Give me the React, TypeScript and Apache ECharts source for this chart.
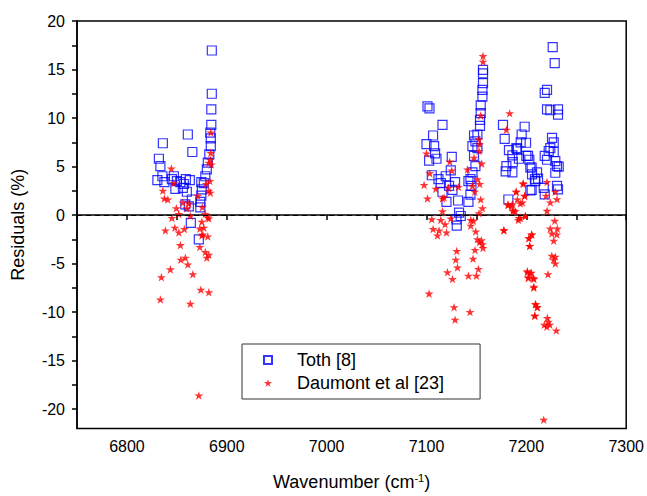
import React, { useEffect, useRef } from "react";
import * as echarts from "echarts";

// Toth [8] residuals: [wavenumber (cm-1), residual (%)]
const tothPoints: [number, number][] = [
  [6885, 16.96], [6885, 12.5], [6884.5, 10.9], [6884.5, 9.3], [6883.5, 8.5], [6884, 7.9], [6884, 7.1],
  [6882.5, 6.25], [6881, 5.4], [6880, 4.7], [6878.5, 4.0], [6877, 3.3], [6874.5, 3.4], [6875, 2.65],
  [6874.5, 2.0], [6873.5, 1.35], [6873.5, 0.8], [6864, -0.8], [6872, -2.5], [6861, 8.3], [6836, 7.4],
  [6865.5, 6.5], [6832, 5.8], [6833.5, 5.05], [6830.5, 3.6], [6837.5, 3.4], [6835.5, 4.0], [6847, 4.0],
  [6845, 3.7], [6850, 3.5], [6853.5, 3.4], [6857, 3.2], [6859, 3.7], [6863, 3.6], [6848.5, 2.7],
  [6856, 2.8], [6860, 2.4], [6865, 1.6], [6862, 0.9], [6858.5, 1.1],
  [7156.6, 14.97], [7156.6, 14.6], [7156.6, 13.6], [7156, 12.9], [7156, 12.2], [7154.3, 11.3],
  [7154.3, 10.5], [7153.6, 9.8], [7153.6, 9.2], [7151, 8.3], [7147.6, 8.2], [7149, 7.6], [7146, 7.1],
  [7151, 6.9], [7147.6, 6.1], [7149, 5.05], [7146, 4.4], [7144, 3.7], [7142, 3.5], [7145, 3.0],
  [7144, 2.1], [7142, 1.35], [7101, 11.2], [7103, 11.0], [7116, 9.3], [7106.6, 8.2], [7100, 7.3],
  [7107.6, 7.1], [7108.6, 6.35], [7110, 5.8], [7102.6, 5.6], [7125.3, 6.0], [7124.3, 4.6], [7105.3, 4.1],
  [7119.3, 4.0], [7112, 3.7], [7114.3, 3.3], [7128.6, 3.4], [7122.6, 3.0], [7116, 2.4], [7126, 2.6],
  [7120, 1.35], [7131.6, 1.5], [7132.6, 0.26], [7134.3, -0.1], [7130, -0.45], [7130.3, -1.1],
  [7176.6, 9.3], [7178.3, 7.85], [7198.3, 9.1], [7195.3, 8.3], [7194.3, 7.5], [7190, 6.9], [7182.6, 6.7],
  [7186, 6.15], [7200, 6.1], [7192.6, 5.8], [7203, 5.7], [7180, 5.05], [7179.3, 4.5], [7186, 4.4],
  [7205.3, 4.9], [7208.6, 3.7], [7205.3, 2.6], [7182, 1.6],
  [7226.4, 17.3], [7228.4, 15.66], [7220.7, 12.9], [7218.4, 12.6], [7220.7, 10.9], [7224, 10.8],
  [7231.7, 10.9], [7231.7, 10.35], [7199.7, 7.45], [7225.7, 7.96], [7227.4, 7.5], [7224, 6.9],
  [7190.7, 6.8], [7222.4, 6.6], [7227.4, 6.5], [7201.7, 6.1], [7218.4, 6.1], [7220.7, 5.7], [7229, 5.56],
  [7230.7, 5.05], [7232.4, 5.0], [7186.4, 5.46], [7204, 4.9], [7205.7, 4.2], [7210.7, 4.4], [7229, 4.36],
  [7211.7, 3.75], [7209, 3.5], [7217.4, 2.8], [7230.7, 3.0], [7231.7, 2.65], [7204, 2.55], [7218.4, 2.14],
];

// Daumont et al [23] residuals: [wavenumber (cm-1), residual (%)]
const daumontPoints: [number, number][] = [
  [6884, 8.5], [6884, 6.4], [6883.5, 5.7], [6882, 5.4], [6884.5, 5.2], [6844.5, 4.8], [6847, 3.3],
  [6883, 3.5], [6879.5, 3.2], [6882, 2.5], [6883.5, 2.3], [6836, 2.5], [6837.5, 1.7], [6841, 1.6],
  [6871, 2.0], [6856, 1.3], [6862, 1.2], [6849.5, 0.7], [6860, 0.7], [6875.5, 0.8], [6852, 0.1],
  [6863.5, -0.1], [6878.5, 0.1], [6881, -0.25], [6845, -0.3], [6875, -0.7], [6877, -1.3], [6838.5, -1.6],
  [6848, -1.3], [6852, -1.8], [6857.5, -1.45], [6873, -1.4], [6876, -2.0], [6881, -2.2], [6853.5, -3.1],
  [6873, -3.3], [6882, -0.36], [6875, -2.1], [6878.5, -3.8], [6882, -4.1], [6880, -4.4], [6858.5, -4.4],
  [6854, -4.6], [6861, -5.1], [6843.5, -5.6], [6866, -6.1], [6834.5, -6.4], [6874, -7.7], [6882, -7.95],
  [6833.5, -8.7], [6863.5, -9.15], [6872, -18.6],
  [7156.6, 16.4], [7156.6, 15.8], [7183.3, 10.5], [7154.3, 10.25], [7180, 8.8], [7152.6, 7.8],
  [7153.3, 7.3], [7152.6, 6.6], [7100, 6.35], [7147.6, 5.9], [7123.3, 5.5], [7155.3, 5.3], [7141, 4.7],
  [7125.3, 4.6], [7103.3, 4.3], [7151, 3.7], [7153.3, 3.2], [7097.6, 3.1], [7132, 2.9], [7122, 2.8],
  [7109.3, 2.7], [7146, 3.0], [7197, 3.2], [7190, 2.4], [7148.3, 2.4], [7101, 1.7], [7116, 1.7],
  [7117.6, 1.8], [7198.3, 2.0], [7154.3, 1.6], [7191, 1.6], [7181.6, 1.1], [7186, 1.1], [7196, 1.3],
  [7156, 0.7], [7116, 0.4], [7186.6, 0.4], [7152.6, 0.19], [7199, -0.1], [7192.6, -0.3], [7105.3, -0.43],
  [7114.3, -0.5], [7124.3, -0.36], [7144.3, -0.5], [7147, -0.6], [7118.6, -0.94], [7106.6, -1.45],
  [7112.6, -1.6], [7111, -2.1], [7120, -1.8], [7144.3, -1.1], [7149.3, -1.7], [7177.6, -1.55],
  [7205.3, -2.0], [7202.6, -2.4], [7151, -2.5], [7155, -2.6], [7156, -3.0], [7153, -2.8],
  [7156.6, -3.4], [7148.6, -3.6], [7130.3, -3.7], [7129.3, -4.6], [7146.6, -4.5], [7203.3, -3.2],
  [7131, -5.4], [7152, -5.56], [7121, -5.9], [7201, -5.9], [7204, -6.0], [7126, -6.6], [7142, -6.25],
  [7150, -6.25], [7202, -6.4], [7207.6, -6.6], [7207.6, -7.4], [7102.6, -8.1], [7209, -9.2], [7211, -9.5],
  [7208.6, -10.35], [7127.6, -9.5], [7143.6, -10.0], [7128.6, -10.8],
  [7196.7, 3.27], [7220.7, 3.4], [7189.7, 2.4], [7229, 2.4], [7198.4, 1.97], [7219.7, 2.0], [7230.7, 1.63],
  [7181.7, 1.0], [7185, 0.9], [7187, 0.5], [7189, 0.4], [7194, 1.2], [7224, 1.3], [7220.7, 0.43],
  [7199, -0.1], [7194, -0.3], [7192, -0.5], [7228.4, -0.6], [7177.4, -1.6], [7224, -1.4], [7231, -1.4],
  [7225.5, -1.9], [7230.5, -2.0], [7205.5, -2.0], [7202.5, -2.4], [7227.4, -2.65], [7203.4, -3.2],
  [7225.5, -4.2], [7229, -4.3], [7227.4, -4.6], [7229, -5.0], [7201, -5.8], [7205, -5.95], [7202, -6.5],
  [7207, -6.5], [7221.7, -6.1], [7207.4, -7.5], [7209.4, -9.2], [7211, -9.5], [7208.4, -10.4],
  [7218, -11.3], [7222, -11.0], [7223.5, -11.3], [7220.5, -11.5], [7221, -10.6], [7230, -11.9],
  [7217.4, -21.1],
];

const xLabelValues = [6800, 6900, 7000, 7100, 7200, 7300];
const xTickValues = [6750, 6800, 6850, 6900, 6950, 7000, 7050, 7100, 7150, 7200, 7250, 7300];
const yLabelValues = [-20, -15, -10, -5, 0, 5, 10, 15, 20];
const yTickValues = [-20, -17.5, -15, -12.5, -10, -7.5, -5, -2.5, 0, 2.5, 5, 7.5, 10, 12.5, 15, 17.5, 20];

const STAR =
  "path://M50,0 L61.2,34.5 L97.6,34.5 L68.2,55.9 L79.4,90.5 L50,69.1 L20.6,90.5 L31.8,55.9 L2.4,34.5 L38.8,34.5 Z";
const SQUARE = "path://M0,0 L10,0 L10,10 L0,10 Z";
const FONT = 'Arial, "Liberation Sans", sans-serif';

export default function App() {
  const ref = useRef<HTMLDivElement>(null);
  useEffect(() => {
    document.body.style.margin = "0";
    const chart = echarts.init(ref.current!, null, { renderer: "svg" });
    chart.setOption({
      animation: false,
      backgroundColor: "#fff",
      grid: {
        left: 77,
        right: 19,
        top: 21,
        bottom: 66,
        show: true,
        borderColor: "#000",
        borderWidth: 1.5,
      },
      legend: {
        left: 242,
        top: 344,
        orient: "vertical",
        borderColor: "#333",
        borderWidth: 1,
        padding: [6, 36, 6, 21],
        itemWidth: 8,
        itemHeight: 8,
        itemGap: 3,
        symbolKeepAspect: true,
        textStyle: {
          fontFamily: FONT,
          fontSize: 18,
          color: "#000",
          lineHeight: 20,
          padding: [0, 0, 0, 20],
        },
        data: [
          { name: "Toth [8]", icon: SQUARE },
          { name: "Daumont et al [23]", icon: STAR },
        ],
      },
      xAxis: {
        type: "value",
        min: 6750,
        max: 7300,
        name: "Wavenumber (cm{sup|-1})",
        nameLocation: "middle",
        nameGap: 44,
        nameTextStyle: {
          fontFamily: FONT,
          fontSize: 18,
          color: "#000",
          rich: { sup: { fontFamily: FONT, fontSize: 11, verticalAlign: "top", padding: [0, 0, 8, 0], color: "#000" } },
        },
        axisLine: { lineStyle: { color: "#000", width: 1.5 } },
        axisTick: { show: true, length: 5, lineStyle: { color: "#000", width: 1.5 }, customValues: xTickValues },
        axisLabel: {
          fontFamily: FONT,
          fontSize: 16,
          color: "#000",
          margin: 10,
          customValues: xLabelValues,
          formatter: (v: number) => String(v),
        },
        splitLine: { show: false },
      },
      yAxis: {
        type: "value",
        min: -22,
        max: 20,
        name: "Residuals (%)",
        nameLocation: "middle",
        nameGap: 50,
        nameTextStyle: { fontFamily: FONT, fontSize: 18, color: "#000" },
        axisLine: { lineStyle: { color: "#000", width: 1.5 } },
        axisTick: { show: true, length: 5, lineStyle: { color: "#000", width: 1.5 }, customValues: yTickValues },
        axisLabel: {
          fontFamily: FONT,
          fontSize: 16,
          color: "#000",
          margin: 12,
          customValues: yLabelValues,
          formatter: (v: number) => String(v),
        },
        splitLine: { show: false },
      },
      series: [
        {
          name: "Toth [8]",
          type: "scatter",
          symbol: SQUARE,
          symbolKeepAspect: true,
          symbolSize: 9,
          itemStyle: { color: "rgba(0,0,0,0)", borderColor: "#0000ff", borderWidth: 1.2 },
          data: tothPoints,
          markLine: {
            silent: true,
            symbol: "none",
            label: { show: false },
            lineStyle: { color: "#000", type: [5, 4], width: 1 },
            data: [{ yAxis: 0 }],
          },
        },
        {
          name: "Daumont et al [23]",
          type: "scatter",
          symbol: STAR,
          symbolKeepAspect: true,
          symbolSize: 9,
          itemStyle: { color: "#ff0000" },
          data: daumontPoints,
        },
      ],
    });
    return () => chart.dispose();
  }, []);
  return <div ref={ref} style={{ width: 647, height: 496 }} />;
}
